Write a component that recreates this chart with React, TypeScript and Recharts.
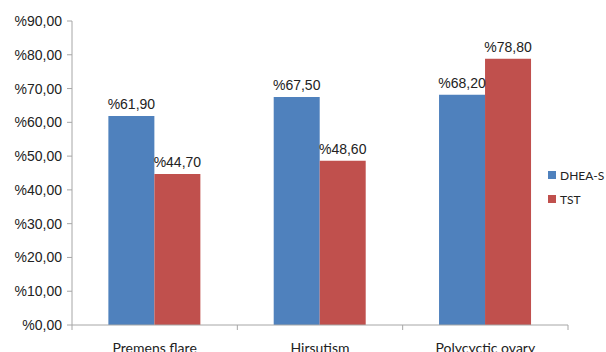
import React from 'react'
import { BarChart, Bar, XAxis, YAxis, LabelList } from 'recharts'

const categories = ['Premens flare', 'Hirsutism', 'Polycyctic ovary']
const dheaValues = [61.9, 67.5, 68.2]
const tstValues = [44.7, 48.6, 78.8]
const yTicks = [0, 10, 20, 30, 40, 50, 60, 70, 80, 90]

const BLUE = '#4F81BD'
const RED = '#C0504D'
const AXIS = '#a6a6a6'

const W = 606
const H = 366
const MARGIN = { top: 21, right: 38, bottom: 8, left: 8 }
const Y_W = 64
const BAND = (W - MARGIN.left - MARGIN.right - Y_W) / categories.length

const data = categories.map((name, i) => ({ name, dhea: dheaValues[i], tst: tstValues[i] }))

const pct = (v: number) => '%' + v.toFixed(2).replace('.', ',')

// category label + the excel style tick marks between categories
function CatTick(props: any) {
  const { x, y, payload, index } = props
  return (
    <g>
      {index === 0 && <line x1={x - BAND / 2} y1={y} x2={x - BAND / 2} y2={y + 5} stroke={AXIS} />}
      <line x1={x + BAND / 2} y1={y} x2={x + BAND / 2} y2={y + 5} stroke={AXIS} />
      <text x={x} y={y + 28} textAnchor="middle" fill="#222" fontSize={14} fontFamily="Lato, 'Noto Sans', sans-serif">
        {payload.value}
      </text>
    </g>
  )
}

export default function App() {
  return (
    <div style={{ position: 'fixed', left: 0, top: 0, width: W, height: 352, overflow: 'hidden', background: '#fff' }}>
      <BarChart width={W} height={H} data={data} margin={MARGIN} barCategoryGap="22%" barGap={0}>
        <XAxis
          dataKey="name"
          stroke={AXIS}
          tickLine={false}
          tickSize={0}
          tickMargin={0}
          height={33}
          tick={<CatTick />}
          interval={0}
        />
        <YAxis
          domain={[0, 90]}
          ticks={yTicks}
          width={Y_W}
          stroke={AXIS}
          tickSize={5}
          tickMargin={5}
          tickFormatter={pct}
          tick={{ fill: '#222', fontSize: 14, fontFamily: "'Liberation Sans', Arial, sans-serif" }}
        />
        <Bar dataKey="dhea" fill={BLUE} isAnimationActive={false}>
          <LabelList dataKey="dhea" position="top" offset={7} formatter={pct as any}
            style={{ fill: '#222', fontSize: 14, fontFamily: "'Liberation Sans', Arial, sans-serif" }} />
        </Bar>
        <Bar dataKey="tst" fill={RED} isAnimationActive={false}>
          <LabelList dataKey="tst" position="top" offset={7} formatter={pct as any}
            style={{ fill: '#222', fontSize: 14, fontFamily: "'Liberation Sans', Arial, sans-serif" }} />
        </Bar>
      </BarChart>
      <div style={{ position: 'absolute', left: 548, top: 163, fontFamily: "Lato, 'Noto Sans', sans-serif", fontSize: 12, color: '#222', whiteSpace: 'nowrap' }}>
        {[['DHEA-S', BLUE], ['TST', RED]].map(([label, c]) => (
          <div key={label} style={{ display: 'flex', alignItems: 'center', height: 24 }}>
            <span style={{ width: 8, height: 8, background: c, marginRight: 4, display: 'inline-block', flexShrink: 0 }} />
            {label}
          </div>
        ))}
      </div>
    </div>
  )
}
